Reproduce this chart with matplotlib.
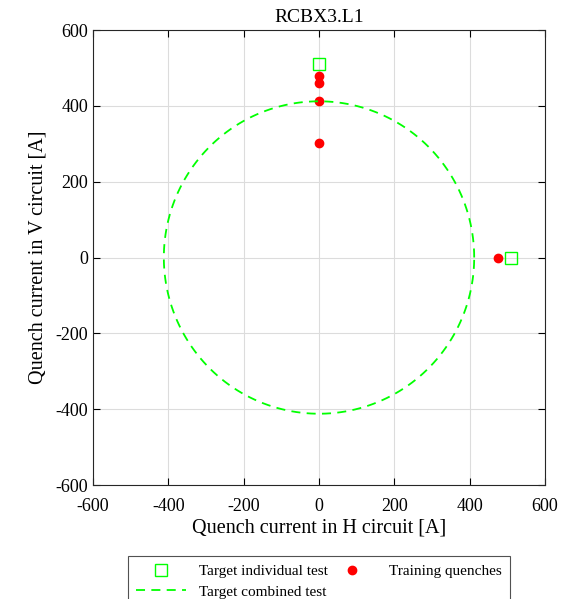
import numpy as np
import matplotlib
matplotlib.use("Agg")
import matplotlib.pyplot as plt

plt.rcParams['font.family'] = ['Liberation Serif', 'DejaVu Serif']
plt.rcParams['axes.unicode_minus'] = False

# Data
target_h = [0, 510]
target_v = [510, 0]
train_h = [0, 0, 0, 0, 475]
train_v = [478, 459, 412, 301, 0]
combined_radius = 412
ticks = [-600, -400, -200, 0, 200, 400, 600]

fig = plt.figure(figsize=(5.61, 5.99), dpi=100)
ax = fig.add_axes([0.1658, 0.1903, 0.8057, 0.7596])

theta = np.linspace(0, 2 * np.pi, 400)
h1, = ax.plot(target_h, target_v, 's', mfc='none', mec='#00ff00', ms=9, mew=1.0,
              linestyle='none', label='Target individual test')
h2, = ax.plot(train_h, train_v, 'o', color='red', ms=6, linestyle='none',
              label='Training quenches')
h3, = ax.plot(combined_radius * np.cos(theta), combined_radius * np.sin(theta),
              '--', color='#00ff00', lw=1.3, dashes=(5, 3.5), label='Target combined test')

ax.set_xlim(-600, 600)
ax.set_ylim(-600, 600)
ax.set_xticks(ticks)
ax.set_yticks(ticks)
ax.grid(True, color='#dcdcdc', lw=0.8)
ax.set_axisbelow(True)
ax.tick_params(direction='in', top=True, right=True, labelsize=13, length=5)
ax.tick_params(axis='x', pad=9)
for s in ax.spines.values():
    s.set_color('#262626')
    s.set_linewidth(0.8)
ax.set_title('RCBX3.L1', fontsize=14, pad=6)
ax.set_xlabel('Quench current in H circuit [A]', fontsize=14.5, labelpad=3)
ax.set_ylabel('Quench current in V circuit [A]', fontsize=14.5, labelpad=6)

leg = fig.legend(handles=[h1, h3, h2], loc='upper left',
                 bbox_to_anchor=(128 / 561, 0, (510 - 128) / 561, 1 - 556 / 599),
                 mode='expand', ncol=2, fontsize=11, frameon=True, fancybox=False,
                 edgecolor='#262626', borderaxespad=0, handlelength=3.27,
                 borderpad=0.55, labelspacing=0.45, columnspacing=1.5)
leg.get_frame().set_linewidth(0.8)

fig.savefig('out.png', dpi=100)
